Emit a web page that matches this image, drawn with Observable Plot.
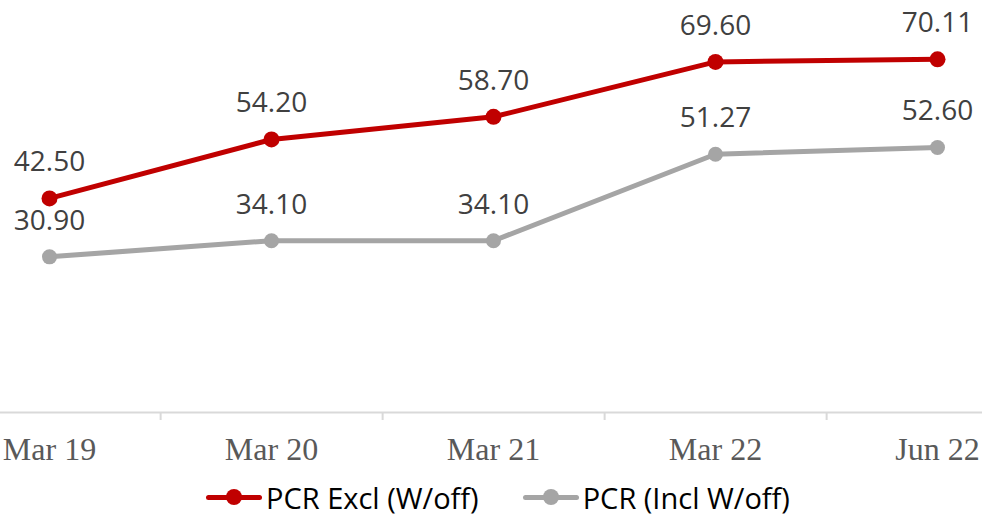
<!DOCTYPE html>
<html>
<head>
<meta charset="utf-8">
<script src="https://cdn.jsdelivr.net/npm/d3@7"></script>
<script src="https://cdn.jsdelivr.net/npm/@observablehq/plot@0.6"></script>
<style>
  html, body { margin: 0; padding: 0; background: #fff; overflow: hidden; }
  #chart { width: 982px; height: 515px; }
  .legend { display: flex; align-items: center; height: 36px; padding-top: 9px; padding-left: 206px;
    font-family: "Open Sans", sans-serif; font-size: 29px; color: #000; }
  .item { display: flex; align-items: center; margin-right: 44px; }
  .sw { position: relative; width: 56px; height: 16px; margin-right: 4px; }
  .sw .ln { position: absolute; left: 0; right: 0; top: 5.5px; height: 5px; border-radius: 2.5px; }
  .sw .dt { position: absolute; left: 20px; top: 0; width: 16px; height: 16px; border-radius: 50%; }
</style>
</head>
<body>
<div id="chart"></div>
<script>
const categories = ["Mar 19", "Mar 20", "Mar 21", "Mar 22", "Jun 22"];
const pcrExcl = [42.50, 54.20, 58.70, 69.60, 70.11];
const pcrIncl = [30.90, 34.10, 34.10, 51.27, 52.60];
const seriesNames = ["PCR Excl (W/off)", "PCR (Incl W/off)"];
const seriesColors = ["#C00000", "#A5A5A5"];

const data = [];
categories.forEach((c, i) => {
  data.push({cat: c, value: pcrExcl[i], series: seriesNames[0]});
  data.push({cat: c, value: pcrIncl[i], series: seriesNames[1]});
});
const excl = data.filter(d => d.series === seriesNames[0]);
const incl = data.filter(d => d.series === seriesNames[1]);

const W = 982, H = 470;
const xRange = [48, 937];
const step = (xRange[1] - xRange[0]) / (categories.length - 1);
const fmt = d3.format(".2f");

const chart = Plot.plot({
  width: W, height: H,
  marginLeft: 0, marginRight: 0, marginTop: 9, marginBottom: 58,
  x: {type: "point", domain: categories, range: xRange, padding: 0, label: null},
  y: {domain: [0, 80], axis: null},
  style: {background: "#fff", overflow: "visible"},
  marks: [
    Plot.ruleY([0], {stroke: "#D9D9D9", strokeWidth: 2}),
    Plot.axisX(categories.slice(0, 4), {tickSize: 8, dx: step / 2, text: null, label: null, stroke: "#D9D9D9", strokeWidth: 2, strokeOpacity: 1}),
    Plot.axisX({tickSize: 0, tickPadding: 25, fontSize: 32, fontFamily: "Liberation Serif, Times New Roman, serif", fill: "#595959", label: null}),
    Plot.line(incl, {x: "cat", y: "value", stroke: seriesColors[1], strokeWidth: 5, curve: "linear"}),
    Plot.line(excl, {x: "cat", y: "value", stroke: seriesColors[0], strokeWidth: 5, curve: "linear"}),
    Plot.dot(incl, {x: "cat", y: "value", r: 7.5, fill: seriesColors[1]}),
    Plot.dot(excl, {x: "cat", y: "value", r: 8, fill: seriesColors[0]}),
    Plot.text(data, {x: "cat", y: "value", text: d => fmt(d.value), dy: -36, fontSize: 28,
      fontFamily: "Open Sans, sans-serif", fill: "#404040"})
  ]
});

const root = document.getElementById("chart");
root.appendChild(chart);

const legend = document.createElement("div");
legend.className = "legend";
seriesNames.forEach((name, i) => {
  const item = document.createElement("div");
  item.className = "item";
  const sw = document.createElement("div");
  sw.className = "sw";
  const ln = document.createElement("div"); ln.className = "ln"; ln.style.background = seriesColors[i];
  const dt = document.createElement("div"); dt.className = "dt"; dt.style.background = seriesColors[i];
  sw.appendChild(ln); sw.appendChild(dt);
  const label = document.createElement("span");
  label.textContent = name;
  item.appendChild(sw); item.appendChild(label);
  legend.appendChild(item);
});
root.appendChild(legend);
</script>
</body>
</html>
